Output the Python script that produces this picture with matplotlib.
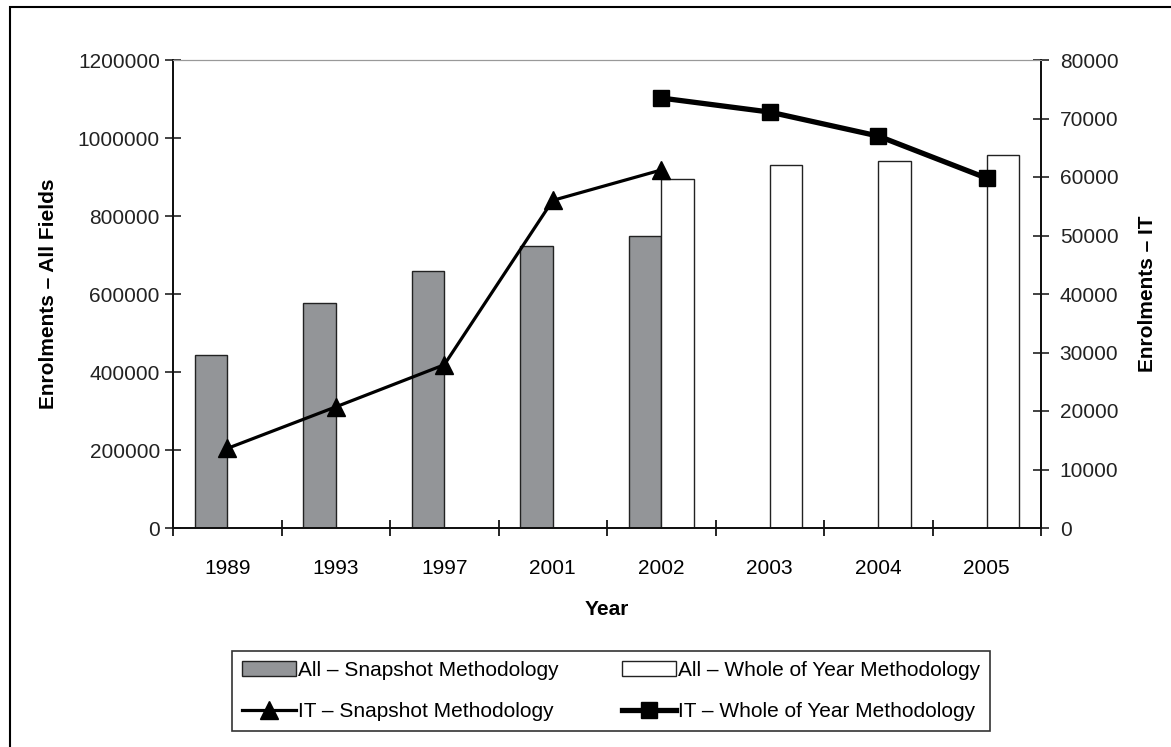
import numpy as np
import matplotlib
matplotlib.use('Agg')
import matplotlib.pyplot as plt
from matplotlib.patches import Rectangle
from matplotlib.ticker import FuncFormatter

plt.rcParams['font.family'] = ['Liberation Sans', 'DejaVu Sans']

# ===========================================================
# Data
# ===========================================================
years = ['1989', '1993', '1997', '2001', '2002', '2003', '2004', '2005']

snap_years = ['1989', '1993', '1997', '2001', '2002']
all_snapshot = [443000, 577000, 659000, 724000, 749500]
it_snapshot = [13600, 20700, 27900, 56000, 61200]

whole_years = ['2002', '2003', '2004', '2005']
all_whole = [894000, 930000, 941000, 955600]
it_whole = [73500, 71100, 67000, 59800]

x_snap = np.array([years.index(y) for y in snap_years])
x_whole = np.array([years.index(y) for y in whole_years])
bar_w = 0.3

fig = plt.figure(figsize=(11.71, 7.47), dpi=100)
ax1 = fig.add_axes([173/1171, 1-528/747, (1041-173)/1171, (528-60)/747])
ax2 = ax1.twinx()

# bars on left axis
ax1.bar(x_snap - bar_w/2, all_snapshot, width=bar_w, color='#939598',
        edgecolor='#222222', linewidth=1.0, label='All – Snapshot Methodology')
ax1.bar(x_whole + bar_w/2, all_whole, width=bar_w, color='white',
        edgecolor='#222222', linewidth=1.0, label='All – Whole of Year Methodology')

# lines on right axis
ax2.plot(x_snap, it_snapshot, color='black', linewidth=2.3, marker='^',
         markersize=13, label='IT – Snapshot Methodology')
ax2.plot(x_whole, it_whole, color='black', linewidth=3.8, marker='s',
         markersize=12, label='IT – Whole of Year Methodology')

ax1.set_xlim(-0.5, 7.5)
ax1.set_ylim(0, 1200000)
ax2.set_ylim(0, 80000)
ax1.set_yticks(np.arange(0, 1200001, 200000))
ax2.set_yticks(np.arange(0, 80001, 10000))
plain = FuncFormatter(lambda v, p: f'{int(round(v))}')
ax1.yaxis.set_major_formatter(plain)
ax2.yaxis.set_major_formatter(plain)

# tick marks between categories, labels at centres
ax1.set_xticks(np.arange(-0.5, 8, 1))
ax1.set_xticklabels([])
ax1.set_xticks(np.arange(0, 8), minor=True)
ax1.set_xticklabels(years, minor=True, fontsize=15)
ax1.tick_params(axis='x', which='major', direction='inout', length=12, width=1.2)
ax1.tick_params(axis='x', which='minor', length=0, pad=22)
ax1.tick_params(axis='y', direction='inout', length=11, width=1.2, labelsize=15, pad=4, colors='#222222')
ax2.tick_params(axis='y', direction='inout', length=11, width=1.2, labelsize=15, pad=8, colors='#222222')

for ax in (ax1, ax2):
    for side in ('left', 'right', 'bottom'):
        ax.spines[side].set_color('#111111')
        ax.spines[side].set_linewidth(1.3)
    ax.spines['top'].set_color('#999999')
    ax.spines['top'].set_linewidth(0.8)

ax1.set_ylabel('Enrolments – All Fields', fontsize=15, fontweight='bold', labelpad=14)
ax2.set_ylabel('Enrolments – IT', fontsize=15, fontweight='bold', labelpad=14)
ax1.set_xlabel('Year', fontsize=15, fontweight='bold', labelpad=16)

h1, l1 = ax1.get_legend_handles_labels()
h2, l2 = ax2.get_legend_handles_labels()
handles = [h1[0], h2[0], h1[1], h2[1]]
labels = [l1[0], l2[0], l1[1], l2[1]]
leg = fig.legend(handles, labels, loc='center', bbox_to_anchor=(611/1171, 1-691/747),
                 ncol=2, fontsize=15, frameon=True, fancybox=False, edgecolor='black',
                 handlelength=2.6, handletextpad=0.1, columnspacing=3.0,
                 labelspacing=1.05, borderpad=0.5)
leg.get_frame().set_linewidth(1.2)

# outer frame round the whole chart
fig.patches.append(Rectangle((10/1171, -0.1), 1.2, 1-7/747+0.1, transform=fig.transFigure,
                             fill=False, edgecolor='black', linewidth=1.5))

plt.savefig('out.png', dpi=100)
plt.close()
